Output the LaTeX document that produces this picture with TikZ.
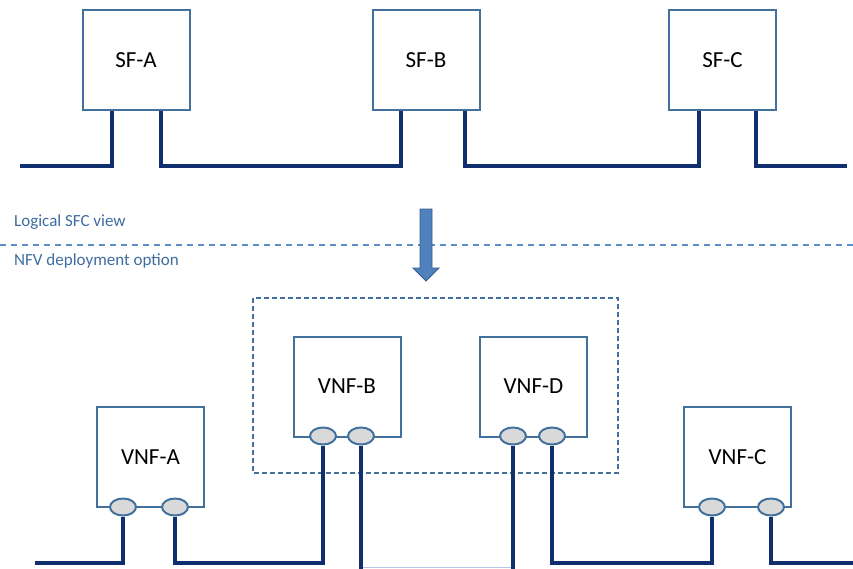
\documentclass[tikz,border=0pt]{standalone}
\usepackage{fontspec}
\setmainfont{Carlito}
\usetikzlibrary{shapes.geometric}
\definecolor{boxline}{HTML}{41719C}
\definecolor{wire}{HTML}{102F6E}
\definecolor{portfill}{HTML}{D9D9D9}
\definecolor{labelblue}{HTML}{3F6C9E}
\definecolor{arrowfill}{HTML}{4F81BD}
\definecolor{arrowline}{HTML}{385D8A}
\definecolor{dashblue}{HTML}{5B8FC9}
\definecolor{faint}{HTML}{B4C7E7}
\tikzset{
  fnbox/.style={draw=boxline, line width=2pt, fill=white, minimum width=107pt, minimum height=100pt, inner sep=0pt, font=\fontsize{23}{26}\selectfont},
  port/.style={ellipse, draw=boxline, line width=2pt, fill=portfill, minimum width=26pt, minimum height=17pt, inner sep=0pt},
  wireline/.style={draw=wire, line width=3.2pt},
  caption/.style={anchor=west, text=labelblue, inner sep=0pt, font=\fontsize{17}{20}\selectfont},
}
\begin{document}
\begin{tikzpicture}[x=1pt,y=-1pt]
\useasboundingbox (0,0) rectangle (853,568);
% separator
\draw[dashblue, line width=1.5pt, dash pattern=on 6pt off 5pt] (0,245) -- (853,245);
\node[caption] (lsv) at (14,222) {Logical SFC view};
\node[caption] (nfv) at (14,261) {NFV deployment option};
% arrow
\filldraw[fill=arrowfill, draw=arrowline, line width=0.8pt]
  (420,209) -- (432,209) -- (432,268) -- (439,268) -- (426,281) -- (413,268) -- (420,268) -- cycle;
% top row
\node[fnbox] (sfa) at (136,60) {SF-A};
\node[fnbox] (sfb) at (426,60) {SF-B};
\node[fnbox] (sfc) at (722.5,60) {SF-C};
\coordinate (sfa-in) at (112,111);
\coordinate (sfa-out) at (161,111);
\coordinate (sfb-in) at (401,111);
\coordinate (sfb-out) at (465,111);
\coordinate (sfc-in) at (699,111);
\coordinate (sfc-out) at (756,111);
\coordinate (topstart) at (20,166);
\coordinate (topend) at (847,166);
\draw[wireline] (topstart) -| (sfa-in);
\draw[wireline] (sfa-out) |- (topstart -| sfb-in) -- (sfb-in);
\draw[wireline] (sfb-out) |- (topstart -| sfc-in) -- (sfc-in);
\draw[wireline] (sfc-out) |- (topend);
% bottom row
\draw[boxline, line width=2pt, dash pattern=on 5pt off 3pt] (253,298) rectangle (618,473);
\node[fnbox] (vnfa) at (150.5,457) {VNF-A};
\node[fnbox] (vnfb) at (347,386.5) {VNF-B};
\node[fnbox] (vnfd) at (533.5,386.5) {VNF-D};
\node[fnbox] (vnfc) at (737.5,457) {VNF-C};
\coordinate (botstart) at (35,563);
\coordinate (botend) at (853,563);
\coordinate (botedge) at (0,569);
\node[port] (pa1) at (123,507) {};
\node[port] (pa2) at (175,507) {};
\node[port] (pb1) at (323,436) {};
\node[port] (pb2) at (361,436) {};
\node[port] (pd1) at (513,436) {};
\node[port] (pd2) at (552,436) {};
\node[port] (pc1) at (712,507) {};
\node[port] (pc2) at (771,507) {};
\draw[faint, line width=1pt] (pb2.center |- 0,567) -- (pd1.center |- 0,567);
\draw[wireline] (botstart) -| (pa1.south);
\draw[wireline] (pa2.south) |- (botstart -| pb1) -- (pb1.south);
\draw[wireline] (pb2.south) -- (pb2.south |- botedge);
\draw[wireline] (pd1.south) -- (pd1.south |- botedge);
\draw[wireline] (pd2.south) |- (botstart -| pc1) -- (pc1.south);
\draw[wireline] (pc2.south) |- (botend);
\end{tikzpicture}
\end{document}
